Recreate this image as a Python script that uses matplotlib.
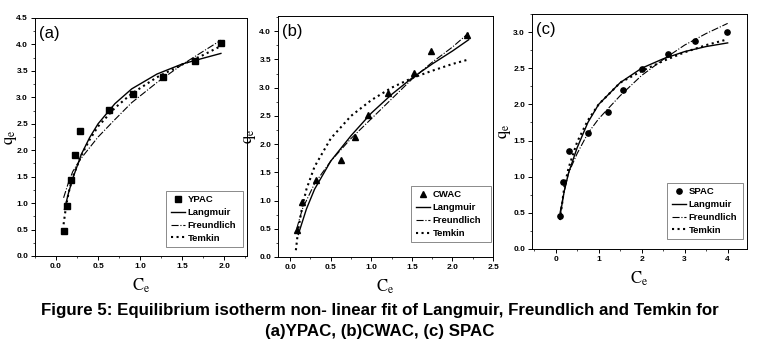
import matplotlib
matplotlib.use('Agg')
import matplotlib.pyplot as plt
from matplotlib.ticker import MultipleLocator, FormatStrFormatter

plt.rcParams['font.family'] = ['Liberation Sans', 'DejaVu Sans']
plt.rcParams['mathtext.fontset'] = 'stix'

# ---- (a) YPAC ----
a_x = [0.09, 0.13, 0.18, 0.22, 0.29, 0.63, 0.92, 1.27, 1.65, 1.96]
a_y = [0.47, 0.95, 1.43, 1.91, 2.36, 2.76, 3.06, 3.39, 3.69, 4.03]
a_lang_x = [0.1, 0.15, 0.2, 0.3, 0.4, 0.5, 0.7, 0.9, 1.2, 1.5, 1.75, 1.96]
a_lang_y = [0.88, 1.2, 1.47, 1.92, 2.24, 2.5, 2.88, 3.16, 3.44, 3.63, 3.74, 3.83]
a_freu_x = [0.09, 0.15, 0.2, 0.3, 0.4, 0.5, 0.7, 0.9, 1.2, 1.5, 1.75, 1.96]
a_freu_y = [1.1, 1.4, 1.6, 1.85, 2.05, 2.25, 2.58, 2.9, 3.28, 3.62, 3.87, 4.08]
a_temk_x = [0.09, 0.12, 0.15, 0.2, 0.3, 0.4, 0.5, 0.7, 0.9, 1.2, 1.5, 1.75, 1.96]
a_temk_y = [0.6, 0.95, 1.2, 1.5, 1.9, 2.2, 2.45, 2.8, 3.07, 3.38, 3.62, 3.8, 3.97]

# ---- (b) CWAC ----
b_x = [0.09, 0.15, 0.32, 0.63, 0.80, 0.96, 1.21, 1.53, 1.74, 2.18]
b_y = [0.47, 0.97, 1.36, 1.71, 2.13, 2.52, 2.91, 3.26, 3.65, 3.93]
b_lang_x = [0.1, 0.2, 0.3, 0.5, 0.75, 1.0, 1.25, 1.5, 1.75, 2.0, 2.2]
b_lang_y = [0.4, 0.85, 1.2, 1.7, 2.15, 2.55, 2.88, 3.17, 3.42, 3.65, 3.85]
b_freu_x = [0.08, 0.15, 0.3, 0.5, 0.75, 1.0, 1.25, 1.5, 1.75, 2.0, 2.2]
b_freu_y = [0.5, 0.85, 1.3, 1.7, 2.1, 2.45, 2.8, 3.15, 3.45, 3.72, 3.97]
b_temk_x = [0.07, 0.1, 0.15, 0.2, 0.3, 0.5, 0.75, 1.0, 1.25, 1.5, 1.75, 2.0, 2.2]
b_temk_y = [0.12, 0.5, 0.9, 1.2, 1.6, 2.1, 2.5, 2.78, 3.0, 3.17, 3.3, 3.42, 3.5]

# ---- (c) SPAC ----
c_x = [0.09, 0.16, 0.31, 0.75, 1.21, 1.56, 2.0, 2.61, 3.24, 3.98]
c_y = [0.45, 0.92, 1.35, 1.61, 1.89, 2.20, 2.49, 2.69, 2.87, 3.0]
c_lang_x = [0.1, 0.2, 0.3, 0.5, 0.75, 1.0, 1.5, 2.0, 2.5, 3.0, 3.5, 4.0]
c_lang_y = [0.45, 0.8, 1.05, 1.4, 1.75, 2.0, 2.3, 2.5, 2.63, 2.73, 2.8, 2.85]
c_freu_x = [0.1, 0.2, 0.3, 0.5, 0.75, 1.0, 1.5, 2.0, 2.5, 3.0, 3.5, 4.0]
c_freu_y = [0.5, 0.8, 1.05, 1.32, 1.6, 1.8, 2.12, 2.4, 2.62, 2.82, 2.98, 3.12]
c_temk_x = [0.1, 0.2, 0.3, 0.5, 0.75, 1.0, 1.5, 2.0, 2.5, 3.0, 3.5, 4.0]
c_temk_y = [0.4, 0.85, 1.12, 1.48, 1.78, 2.0, 2.3, 2.46, 2.6, 2.72, 2.82, 2.9]

fig = plt.figure(figsize=(7.59, 3.48), dpi=100)

panels = [
    dict(rect=[0.0461, 0.2644, 0.2793, 0.6839], tag='(a)', name='YPAC', marker='s',
         pts=(a_x, a_y), lang=(a_lang_x, a_lang_y), freu=(a_freu_x, a_freu_y), temk=(a_temk_x, a_temk_y),
         xlim=(-0.25, 2.27), ylim=(0, 4.5), xmaj=0.5, xmin=0.25, xfmt='%.1f',
         leg=(0.62, 0.038, 0.36, 0.28), ylx=-0.075),
    dict(rect=[0.3663, 0.2615, 0.2833, 0.6925], tag='(b)', name='CWAC', marker='^',
         pts=(b_x, b_y), lang=(b_lang_x, b_lang_y), freu=(b_freu_x, b_freu_y), temk=(b_temk_x, b_temk_y),
         xlim=(-0.15, 2.5), ylim=(0, 4.27), xmaj=0.5, xmin=0.25, xfmt='%.1f',
         leg=(0.62, 0.062, 0.37, 0.27), ylx=-0.095),
    dict(rect=[0.7009, 0.2845, 0.2833, 0.6753], tag='(c)', name='SPAC', marker='o',
         pts=(c_x, c_y), lang=(c_lang_x, c_lang_y), freu=(c_freu_x, c_freu_y), temk=(c_temk_x, c_temk_y),
         xlim=(-0.55, 4.45), ylim=(0, 3.25), xmaj=1, xmin=0.5, xfmt='%d',
         leg=(0.63, 0.043, 0.35, 0.28), ylx=-0.09),
]

for p in panels:
    ax = fig.add_axes(p['rect'])
    ax.plot(p['pts'][0], p['pts'][1], linestyle='none', marker=p['marker'], color='black',
            markersize=3.8, label=p['name'])
    ax.plot(p['lang'][0], p['lang'][1], '-', color='black', lw=1.0, label='Langmuir')
    ax.plot(p['freu'][0], p['freu'][1], '-.', color='black', lw=0.8, label='Freundlich')
    ax.plot(p['temk'][0], p['temk'][1], ':', color='black', lw=1.5, label='Temkin')
    ax.set_xlim(*p['xlim'])
    ax.set_ylim(*p['ylim'])
    ax.xaxis.set_major_locator(MultipleLocator(p['xmaj']))
    ax.xaxis.set_minor_locator(MultipleLocator(p['xmin']))
    ax.yaxis.set_major_locator(MultipleLocator(0.5))
    ax.yaxis.set_minor_locator(MultipleLocator(0.25))
    ax.xaxis.set_major_formatter(FormatStrFormatter(p['xfmt']))
    ax.yaxis.set_major_formatter(FormatStrFormatter('%.1f'))
    ax.tick_params(which='major', direction='out', length=3, width=0.7, labelsize=6, pad=2)
    ax.tick_params(which='minor', direction='out', length=1.5, width=0.5)
    for lab in ax.get_xticklabels() + ax.get_yticklabels():
        lab.set_fontweight('bold')
    for s in ax.spines.values():
        s.set_linewidth(0.7)
    ax.text(0.02, 0.965, p['tag'], transform=ax.transAxes, ha='left', va='top', fontsize=12)
    ax.set_ylabel(r'$\mathrm{q_e}$', fontsize=12)
    ax.yaxis.set_label_coords(p['ylx'], 0.5)
    ax.set_xlabel(r'$\mathrm{C_e}$', fontsize=12, labelpad=5)
    leg = ax.legend(loc='lower left', bbox_to_anchor=p['leg'], mode='expand',
                    fontsize=6.8, frameon=True, fancybox=False, handlelength=1.5,
                    handletextpad=0.3, borderpad=0.45, labelspacing=0.4, borderaxespad=0)
    leg.get_frame().set_edgecolor('#555555')
    leg.get_frame().set_linewidth(0.6)
    for t in leg.get_texts():
        t.set_fontweight('bold')

fig.text(0.5, 0.108, 'Figure 5: Equilibrium isotherm non- linear fit of Langmuir, Freundlich and Temkin for',
         ha='center', va='center', fontsize=12.2, fontweight='bold')
fig.text(0.5, 0.048, '(a)YPAC, (b)CWAC, (c) SPAC',
         ha='center', va='center', fontsize=12.2, fontweight='bold')

fig.savefig('out.png', dpi=100)
